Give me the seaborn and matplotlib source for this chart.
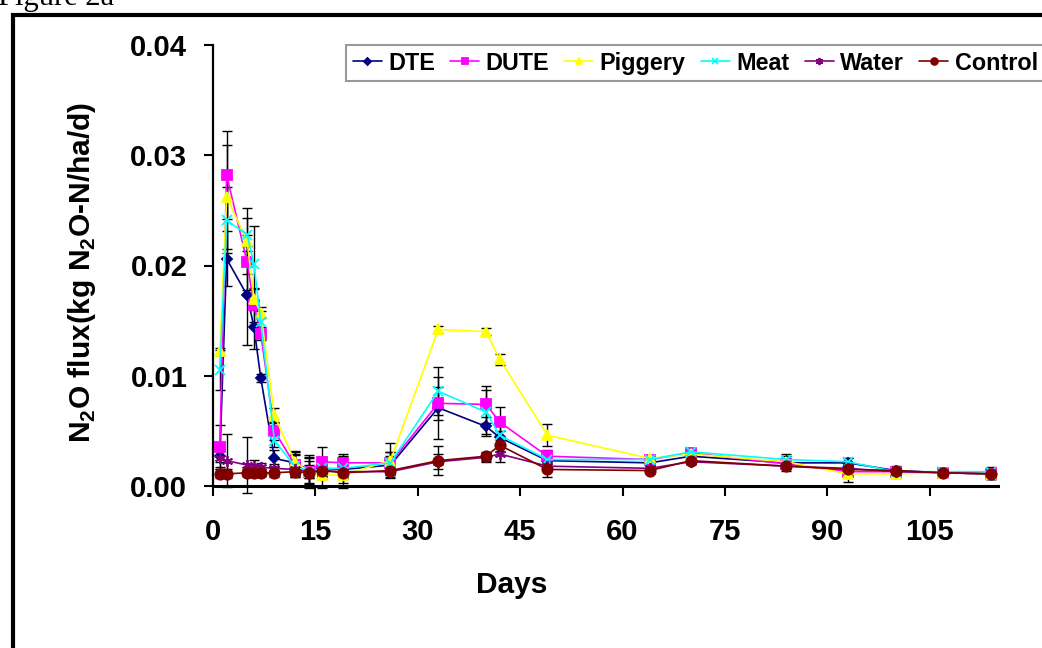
import numpy as np
import pandas as pd
import matplotlib
matplotlib.use("Agg")
import matplotlib.pyplot as plt
from matplotlib.patches import Rectangle
from matplotlib.ticker import FormatStrFormatter
import seaborn as sns

# ---------------- data ----------------
days = [1, 2, 5, 6, 7, 9, 12, 14, 16, 19, 26, 33, 40, 42, 49, 64, 70, 84, 93, 100, 107, 114]

dte = [0.0027, 0.0206, 0.0173, 0.0144, 0.0098, 0.0025, 0.0021, 0.0014, 0.0016, 0.0015, 0.0019,
       0.0071, 0.0054, 0.0044, 0.0023, 0.0021, 0.0027, 0.0021, 0.0021, 0.0014, 0.0012, 0.0011]
dute = [0.0035, 0.0282, 0.0203, 0.0164, 0.0138, 0.0050, 0.0019, 0.0013, 0.0022, 0.0021, 0.0021,
        0.0075, 0.0074, 0.0058, 0.0027, 0.0024, 0.0030, 0.0020, 0.0013, 0.0013, 0.0012, 0.0011]
piggery = [0.0122, 0.0262, 0.0222, 0.0170, 0.0157, 0.0064, 0.0022, 0.0013, 0.0010, 0.0010, 0.0023,
           0.0142, 0.0140, 0.0115, 0.0046, 0.0025, 0.0029, 0.0022, 0.0011, 0.0011, 0.0012, 0.0011]
meat = [0.0105, 0.0241, 0.0228, 0.0201, 0.0149, 0.0041, 0.0018, 0.0013, 0.0016, 0.0016, 0.0021,
        0.0086, 0.0067, 0.0046, 0.0024, 0.0024, 0.0031, 0.0024, 0.0022, 0.0013, 0.0013, 0.0013]
water = [0.0025, 0.0023, 0.0019, 0.0018, 0.0017, 0.0016, 0.0015, 0.0013, 0.0014, 0.0013, 0.0013,
         0.0022, 0.0026, 0.0029, 0.0018, 0.0016, 0.0022, 0.0018, 0.0016, 0.0013, 0.0012, 0.0011]
control = [0.0011, 0.0011, 0.0012, 0.0012, 0.0012, 0.0012, 0.0013, 0.0012, 0.0014, 0.0012, 0.0014,
           0.0023, 0.0027, 0.0037, 0.0015, 0.0014, 0.0023, 0.0018, 0.0015, 0.0014, 0.0012, 0.0011]

dte_err = [0.0005, 0.0025, 0.0045, 0.0020, 0.0004, 0.0008, 0.0010, 0.0012, 0.0010, 0.0012, 0.0008,
           0.0028, 0.0009, 0.0006, 0.0006, 0.0002, 0.0002, 0.0004, 0.0004, 0.0003, 0.0003, 0.0004]
dute_err = [0.0020, 0.0040, 0.0025, 0.0015, 0.0006, 0.0008, 0.0010, 0.0015, 0.0013, 0.0008, 0.0010,
            0.0015, 0.0017, 0.0014, 0.0006, 0.0002, 0.0002, 0.0004, 0.0004, 0.0004, 0.0003, 0.0005]
piggery_err = [0.0003, 0.0047, 0.0030, 0.0010, 0.0005, 0.0007, 0.0010, 0.0010, 0.0012, 0.0012, 0.0016,
               0.0003, 0.0003, 0.0005, 0.0010, 0.0002, 0.0002, 0.0005, 0.0007, 0.0004, 0.0003, 0.0005]
meat_err = [0.0018, 0.0030, 0.0015, 0.0035, 0.0010, 0.0006, 0.0010, 0.0012, 0.0008, 0.0010, 0.0010,
            0.0022, 0.0020, 0.0010, 0.0008, 0.0002, 0.0002, 0.0005, 0.0003, 0.0003, 0.0003, 0.0004]
water_err = [0.0008, 0.0024, 0.0025, 0.0006, 0.0004, 0.0004, 0.0005, 0.0006, 0.0005, 0.0005, 0.0005,
             0.0007, 0.0004, 0.0007, 0.0004, 0.0002, 0.0002, 0.0003, 0.0003, 0.0003, 0.0003, 0.0004]
control_err = [0.0004, 0.0004, 0.0003, 0.0004, 0.0003, 0.0004, 0.0005, 0.0005, 0.0004, 0.0005, 0.0004,
               0.0013, 0.0004, 0.0005, 0.0007, 0.0002, 0.0002, 0.0004, 0.0004, 0.0004, 0.0003, 0.0005]

series_names = ["DTE", "DUTE", "Piggery", "Meat", "Water", "Control"]
y_ticks = [0.00, 0.01, 0.02, 0.03, 0.04]
x_ticks = [0, 15, 30, 45, 60, 75, 90, 105]

# ---------------- style ----------------
sns.set_theme(style="ticks")
plt.rcParams["font.family"] = ["Liberation Sans", "DejaVu Sans"]
plt.rcParams["mathtext.fontset"] = "custom"
plt.rcParams["mathtext.rm"] = "Liberation Sans:bold"
plt.rcParams["mathtext.bf"] = "Liberation Sans:bold"

values = [dte, dute, piggery, meat, water, control]
errors = [dte_err, dute_err, piggery_err, meat_err, water_err, control_err]
colors = ["#000080", "#FF00FF", "#FFFF00", "#00FFFF", "#800080", "#800000"]
markers = ["D", "s", "^", "x", (6, 2, 0), "o"]
msizes = [5.5, 7.0, 7.5, 7.0, 8.0, 7.5]

df = pd.DataFrame({
    "Day": np.tile(days, len(series_names)),
    "Flux": np.concatenate(values),
    "Err": np.concatenate(errors),
    "Treatment": np.repeat(series_names, len(days)),
})

W, H = 1042, 648
fig = plt.figure(figsize=(W / 100, H / 100), dpi=100)
ax = fig.add_axes([213 / W, (H - 486) / H, 785 / W, 441 / H])

# error bars (below the lines)
for name in series_names:
    sub = df[df["Treatment"] == name]
    ax.errorbar(sub["Day"], sub["Flux"], yerr=sub["Err"], fmt="none", ecolor="black",
                elinewidth=1.0, capsize=3.5, capthick=1.0, zorder=1.5, clip_on=False)

for name, c, m, ms in zip(series_names, colors, markers, msizes):
    sub = df[df["Treatment"] == name]
    sns.lineplot(data=sub, x="Day", y="Flux", ax=ax, color=c, marker=m, markersize=ms,
                 markeredgecolor=c, markerfacecolor=c, markeredgewidth=1.3,
                 linewidth=1.2, label=name, errorbar=None, zorder=2)

ax.set_xlim(0, 115)
ax.set_ylim(0, 0.04)
ax.set_xticks(x_ticks)
ax.set_yticks(y_ticks)
ax.yaxis.set_major_formatter(FormatStrFormatter("%.2f"))

for side in ["top", "right"]:
    ax.spines[side].set_visible(False)
ax.spines["left"].set_linewidth(1.6)
ax.spines["bottom"].set_linewidth(2.2)
ax.spines["left"].set_color("black")
ax.spines["bottom"].set_color("black")

ax.tick_params(axis="y", direction="out", length=6.5, width=1.5, color="black", pad=12,
               labelsize=21, labelcolor="black")
ax.tick_params(axis="x", direction="out", length=7, width=1.5, color="black", pad=16,
               labelsize=21, labelcolor="black")
for lab in ax.get_xticklabels() + ax.get_yticklabels():
    lab.set_fontweight("bold")

ax.set_xlabel("Days", fontsize=21.5, fontweight="bold", color="black")
ax.xaxis.set_label_coords((512 - 213) / 785, (486 - 571) / 441)
ax.set_ylabel(r"N$_\mathbf{2}$O flux(kg N$_\mathbf{2}$O-N/ha/d)", fontsize=21.5,
              fontweight="bold", color="black")
ax.yaxis.set_label_coords((98 - 213) / 785, (486 - 272) / 441)

leg = ax.legend(loc="upper left", bbox_to_anchor=(346 / W, 1 - 45 / H),
                bbox_transform=fig.transFigure, ncol=6, frameon=True, fancybox=False,
                prop={"weight": "bold", "size": 16.8}, borderpad=0.28, handlelength=1.25,
                handletextpad=0.27, columnspacing=0.65, borderaxespad=0.0, markerscale=0.65)
leg.get_frame().set_edgecolor("#808080")
leg.get_frame().set_linewidth(1.5)
for t in leg.get_texts():
    t.set_color("black")

# outer frame of the page figure
top = 1 - 14.5 / H
fig.patches.append(Rectangle((13 / W, -0.2), 1.2, top + 0.2, transform=fig.transFigure,
                             fill=False, edgecolor="black", linewidth=3.0, clip_on=False))
fig.text(-0.002, 1 - 5 / H, "Figure 2a", family="Liberation Serif", fontsize=22,
         va="baseline", ha="left", color="black")

fig.savefig("out.png", dpi=100)
